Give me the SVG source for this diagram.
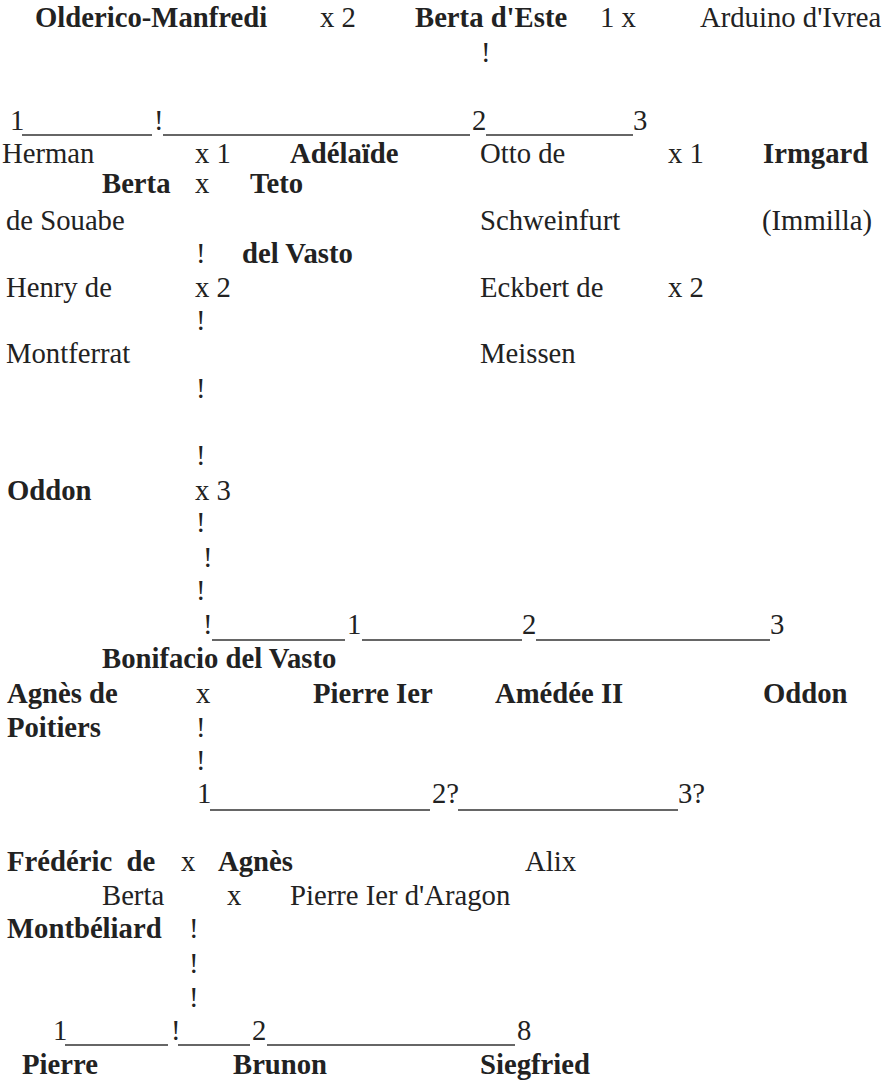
<svg xmlns="http://www.w3.org/2000/svg" width="889" height="1083" viewBox="0 0 889 1083">
<style>
text{font-family:"Liberation Serif","Times New Roman",serif;font-size:28.7px;fill:#222}
.b{font-weight:bold}
line{stroke:#333;stroke-width:1.4}
</style>
<rect width="889" height="1083" fill="#fff"/>
<g id="connectors">
<line x1="22" y1="135" x2="152" y2="135"/>
<line x1="163" y1="135" x2="470" y2="135"/>
<line x1="486" y1="135" x2="633" y2="135"/>
<line x1="212" y1="640" x2="345" y2="640"/>
<line x1="362" y1="640" x2="522" y2="640"/>
<line x1="536" y1="640" x2="770" y2="640"/>
<line x1="210" y1="810" x2="430" y2="810"/>
<line x1="458" y1="810" x2="678" y2="810"/>
<line x1="65" y1="1045" x2="168" y2="1045"/>
<line x1="178" y1="1045" x2="250" y2="1045"/>
<line x1="267" y1="1045" x2="515" y2="1045"/>
<text x="481" y="62">!</text>
<text x="10" y="130">1</text>
<text x="154" y="130">!</text>
<text x="472" y="130">2</text>
<text x="633" y="130">3</text>
<text x="196" y="263">!</text>
<text x="196" y="330">!</text>
<text x="196" y="398">!</text>
<text x="196" y="465">!</text>
<text x="196" y="532">!</text>
<text x="203" y="567">!</text>
<text x="196" y="600">!</text>
<text x="203" y="634">!</text>
<text x="347" y="634">1</text>
<text x="522" y="634">2</text>
<text x="770" y="634">3</text>
<text x="196" y="737">!</text>
<text x="196" y="770">!</text>
<text x="197" y="803">1</text>
<text x="432" y="803">2?</text>
<text x="678" y="803">3?</text>
<text x="189" y="938">!</text>
<text x="189" y="973">!</text>
<text x="189" y="1007">!</text>
<text x="53" y="1040">1</text>
<text x="171" y="1040">!</text>
<text x="252" y="1040">2</text>
<text x="517" y="1040">8</text>
</g>
<g id="row1">
<g id="olderico"><text class="b" x="35" y="27">Olderico-Manfredi</text></g>
<g id="m1"><text x="320" y="27">x 2</text></g>
<g id="berta-este"><text class="b" x="415" y="27">Berta d'Este</text></g>
<g id="m2"><text x="600" y="27">1 x</text></g>
<g id="arduino"><text x="700" y="27">Arduino d'Ivrea</text></g>
</g>
<g id="herman"><text x="2" y="163">Herman</text><text x="6" y="230">de Souabe</text></g>
<g id="m3"><text x="195" y="163">x 1</text></g>
<g id="adelaide"><text class="b" x="290" y="163">Adélaïde</text></g>
<g id="otto"><text x="480" y="163">Otto de</text><text x="480" y="230">Schweinfurt</text></g>
<g id="m4"><text x="668" y="163">x 1</text></g>
<g id="irmgard"><text class="b" x="763" y="163">Irmgard</text><text x="762" y="230">(Immilla)</text></g>
<g id="berta"><text class="b" x="102" y="193">Berta</text></g>
<g id="m5"><text x="195" y="193">x</text></g>
<g id="teto"><text class="b" x="250" y="193">Teto</text><text class="b" x="242" y="263">del Vasto</text></g>
<g id="henry"><text x="6" y="297">Henry de</text><text x="6" y="363">Montferrat</text></g>
<g id="m6"><text x="195" y="297">x 2</text></g>
<g id="eckbert"><text x="480" y="297">Eckbert de</text><text x="480" y="363">Meissen</text></g>
<g id="m7"><text x="668" y="297">x 2</text></g>
<g id="oddon1"><text class="b" x="7" y="500">Oddon</text></g>
<g id="m8"><text x="195" y="500">x 3</text></g>
<g id="bonifacio"><text class="b" x="102" y="668">Bonifacio del Vasto</text></g>
<g id="agnes-poitiers"><text class="b" x="7" y="703">Agnès de</text><text class="b" x="7" y="737">Poitiers</text></g>
<g id="m9"><text x="196" y="703">x</text></g>
<g id="pierre1"><text class="b" x="313" y="703">Pierre Ier</text></g>
<g id="amedee"><text class="b" x="495" y="703">Amédée II</text></g>
<g id="oddon2"><text class="b" x="763" y="703">Oddon</text></g>
<g id="frederic"><text class="b" x="7" y="871" xml:space="preserve">Frédéric  de</text><text class="b" x="7" y="938">Montbéliard</text></g>
<g id="m10"><text x="181" y="871">x</text></g>
<g id="agnes"><text class="b" x="218" y="871">Agnès</text></g>
<g id="alix"><text x="525" y="871">Alix</text></g>
<g id="berta2"><text x="102" y="905">Berta</text></g>
<g id="m11"><text x="227" y="905">x</text></g>
<g id="pierre-aragon"><text x="290" y="905">Pierre Ier d'Aragon</text></g>
<g id="pierre"><text class="b" x="22" y="1074">Pierre</text></g>
<g id="brunon"><text class="b" x="233" y="1074">Brunon</text></g>
<g id="siegfried"><text class="b" x="480" y="1074">Siegfried</text></g>
</svg>
